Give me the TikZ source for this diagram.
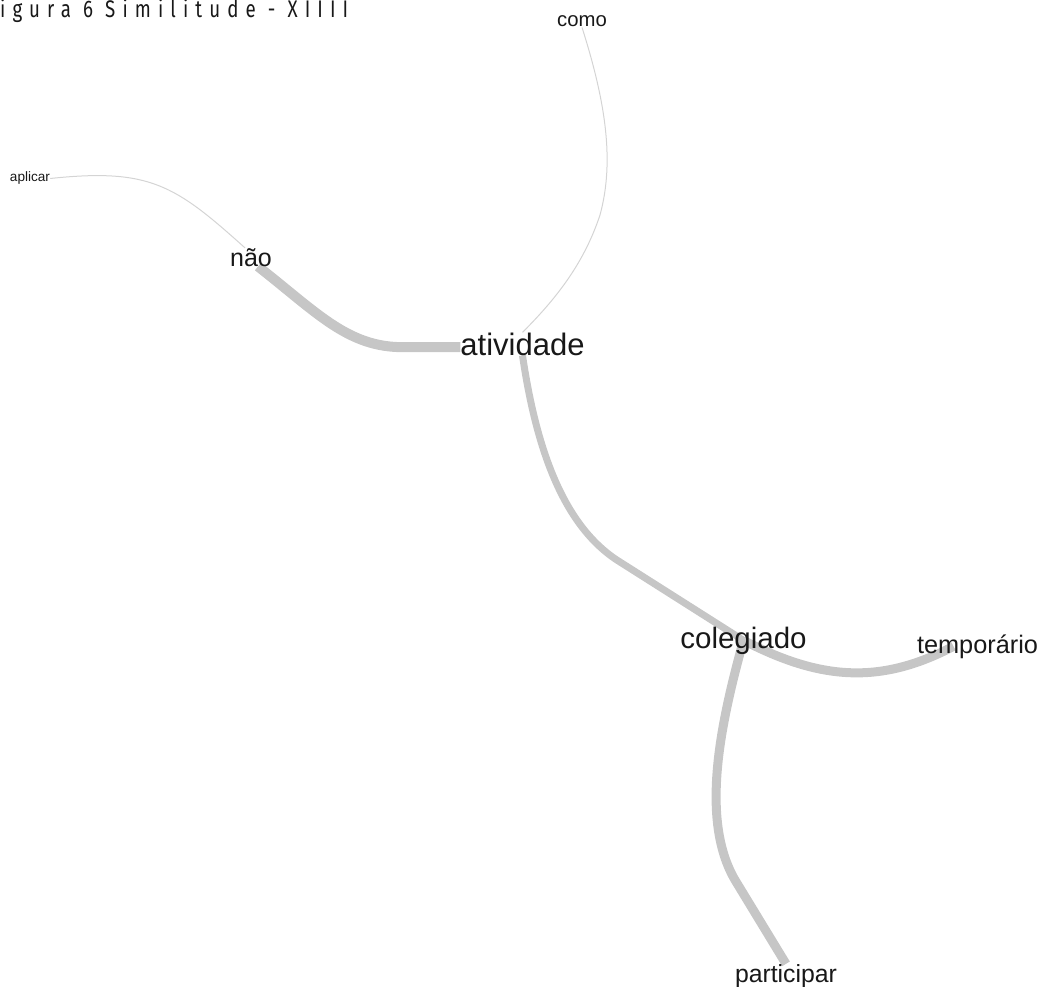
\documentclass[tikz,border=0pt]{standalone}
\usepackage{fontspec}
\setmainfont{Liberation Sans}
\newfontfamily\titulofont[LetterSpace=38]{Fira Sans}
\usetikzlibrary{backgrounds}
\definecolor{aresta}{RGB}{198,198,198}
\definecolor{fio}{RGB}{212,212,212}
\definecolor{texto}{RGB}{24,24,24}

\begin{document}
\begin{tikzpicture}[x=1pt, y=-1pt,
    palavra/.style={anchor=base, inner sep=0, text=texto},
    elo/.style={color=aresta}]
    \useasboundingbox (0,0) rectangle (1041,987);
    \node at (0,18) [anchor=base west, inner sep=0, xscale=0.78, text=texto] (titulo) {\titulofont\fontsize{24}{24}\selectfont igura 6 Similitude - XIIII};

    % palavras
    \node[palavra, font=\fontsize{13.6}{13.6}\selectfont] (aplicar) at (30,182) {aplicar};
    \node[palavra, font=\fontsize{25}{25}\selectfont] (nao) at (251,266) {não};
    \node[palavra, font=\fontsize{20.3}{20.3}\selectfont] (como) at (582,27) {como};
    \node[palavra, font=\fontsize{31}{31}\selectfont] (atividade) at (522.5,355) {atividade};
    \node[palavra, font=\fontsize{29.5}{29.5}\selectfont] (colegiado) at (743.5,648) {colegiado};
    \node[palavra, font=\fontsize{25.3}{25.3}\selectfont] (temporario) at (977.5,653) {temporário};
    \node[palavra, font=\fontsize{24.8}{24.8}\selectfont] (participar) at (786,982) {participar};

    % arestas
    \begin{scope}[on background layer]
    \draw [elo, color=fio, line width=1] (aplicar.east) .. controls (150,168) and (175,185) .. ([xshift=-6]nao.north);
    \draw [elo, line width=10] ([xshift=7]nao.south) .. controls (320,315) and (350,350) .. (410,347) -- ([yshift=8]atividade.base west);
    \draw [elo, color=fio, line width=1] (como.south) .. controls (605,100) and (615,160) .. (600,215) .. controls (585,260) and (560,295) .. (atividade.north);
    \draw [elo, line width=7] (atividade.south) .. controls (535,440) and (560,525) .. (620,562) -- (colegiado.center);
    \draw [elo, line width=9] (colegiado.center) .. controls (820,680) and (880,685) .. ([xshift=-24]temporario.center);
    \draw [elo, line width=9] (colegiado.center) .. controls (720,725) and (700,820) .. (735,880) -- (participar.north);
    \end{scope}
\end{tikzpicture}
\end{document}
